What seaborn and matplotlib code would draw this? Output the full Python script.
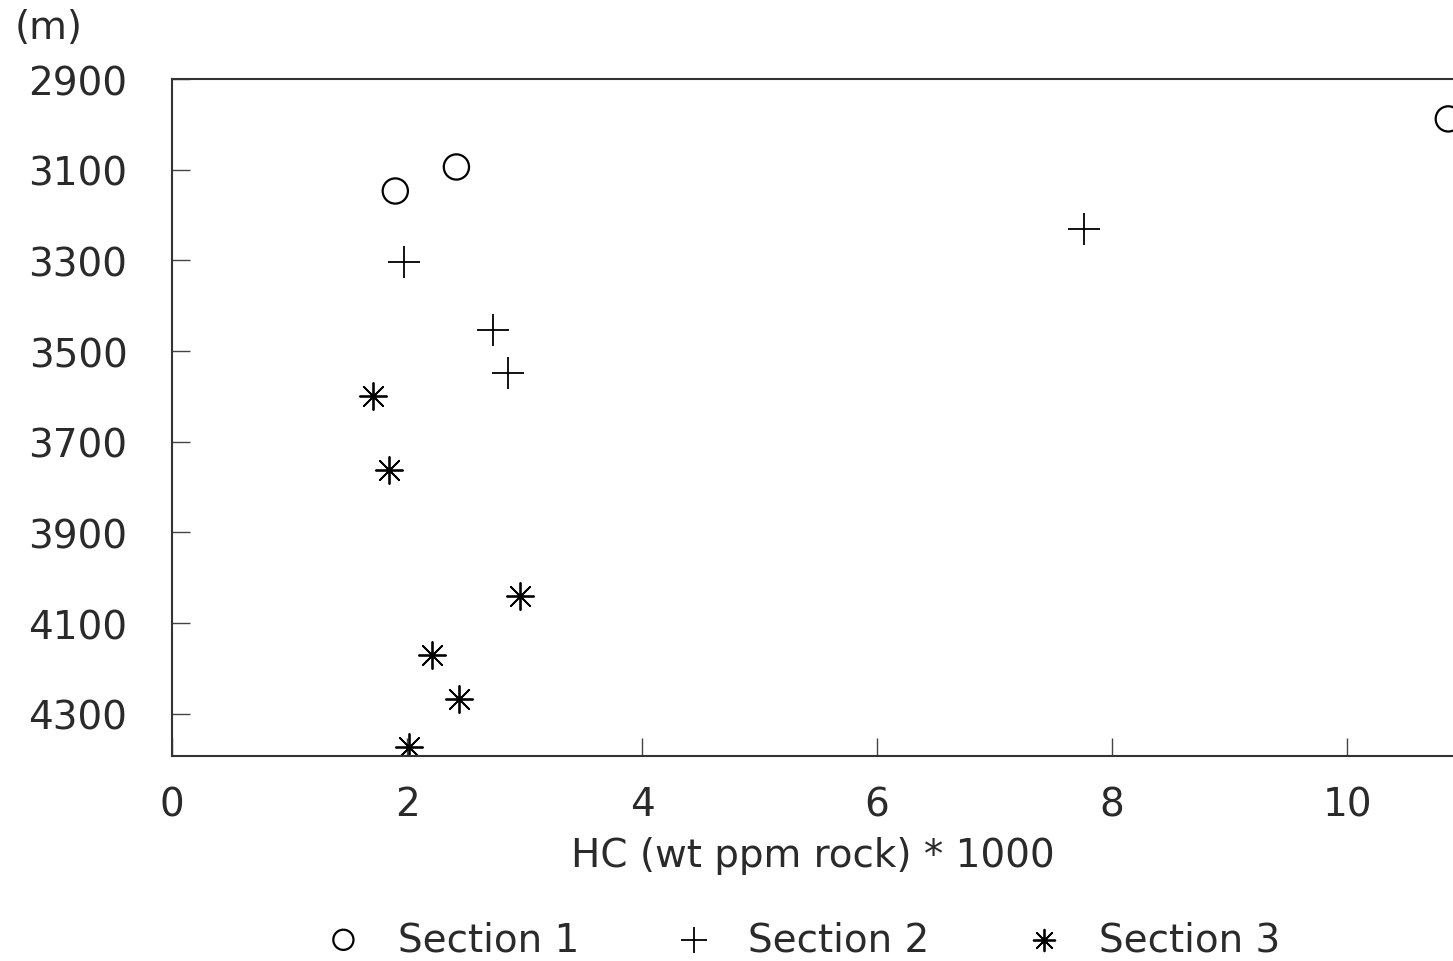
import matplotlib
matplotlib.use("Agg")
import matplotlib.pyplot as plt
import seaborn as sns
import pandas as pd

sns.set_theme(style="white")
plt.rcParams['font.family'] = ['DejaVu Sans']

# Data (HC in wt ppm rock / 1000, depth in m)
s1_hc = [1.90, 2.42, 10.86]
s1_depth = [3147, 3094, 2988]
s2_hc = [1.97, 2.73, 2.86, 7.76]
s2_depth = [3304, 3454, 3549, 3231]
s3_hc = [1.71, 1.85, 2.96, 2.21, 2.44, 2.02]
s3_depth = [3599, 3763, 4040, 4171, 4268, 4374]

section_names = ["Section 1", "Section 2", "Section 3"]
x_ticks = [0, 2, 4, 6, 8, 10]
y_ticks = [2900, 3100, 3300, 3500, 3700, 3900, 4100, 4300]

df1 = pd.DataFrame({"hc": s1_hc, "depth": s1_depth})
df2 = pd.DataFrame({"hc": s2_hc, "depth": s2_depth})
df3 = pd.DataFrame({"hc": s3_hc, "depth": s3_depth})

txt = "#2a2a2a"
fs = 28
fig = plt.figure(figsize=(14.53, 9.62), dpi=100)
ax = fig.add_axes([172/1453, 1-757/962, 1-172/1453, (757-80)/962])

sns.scatterplot(data=df1, x="hc", y="depth", ax=ax, marker="o", s=330,
                facecolors="none", edgecolor="black", linewidth=1.6,
                label=section_names[0])
sns.scatterplot(data=df2, x="hc", y="depth", ax=ax, marker="+", s=520,
                color="black", linewidth=1.3, label=section_names[1])
sns.scatterplot(data=df3, x="hc", y="depth", ax=ax, marker=(8, 2, 0), s=380,
                color="black", linewidth=1.3, label=section_names[2])

ax.set_xlim(0, 10.9)
ax.set_ylim(4393, 2900)
ax.set_xticks(x_ticks)
ax.set_yticks(y_ticks)
ax.set_xticklabels([str(v) for v in x_ticks])
ax.set_yticklabels([str(v) for v in y_ticks])
ax.tick_params(axis="both", direction="in", length=13, width=1, color="#444444",
               labelsize=fs, labelcolor=txt, bottom=True, left=True)
ax.tick_params(axis="x", pad=21)
ax.tick_params(axis="y", pad=32)
for sp in ["left", "bottom", "top"]:
    ax.spines[sp].set_color("#333333")
    ax.spines[sp].set_linewidth(1.5)
ax.spines["right"].set_visible(False)

ax.set_xlabel("HC (wt ppm rock) * 1000", fontsize=fs, color=txt, labelpad=9)
ax.set_ylabel("")
fig.text(15/1453, 1-28/962, "(m)", fontsize=fs, color=txt, va="center", ha="left")

handles, labels = ax.get_legend_handles_labels()
ax.legend_.remove()
fig.legend(handles, labels, loc="center", bbox_to_anchor=(802/1453, 1-940/962),
           ncol=3, frameon=False, fontsize=fs, labelcolor=txt,
           handlelength=1.0, handletextpad=0.9, columnspacing=2.45,
           markerscale=0.8)

fig.savefig("out.png", dpi=100)
